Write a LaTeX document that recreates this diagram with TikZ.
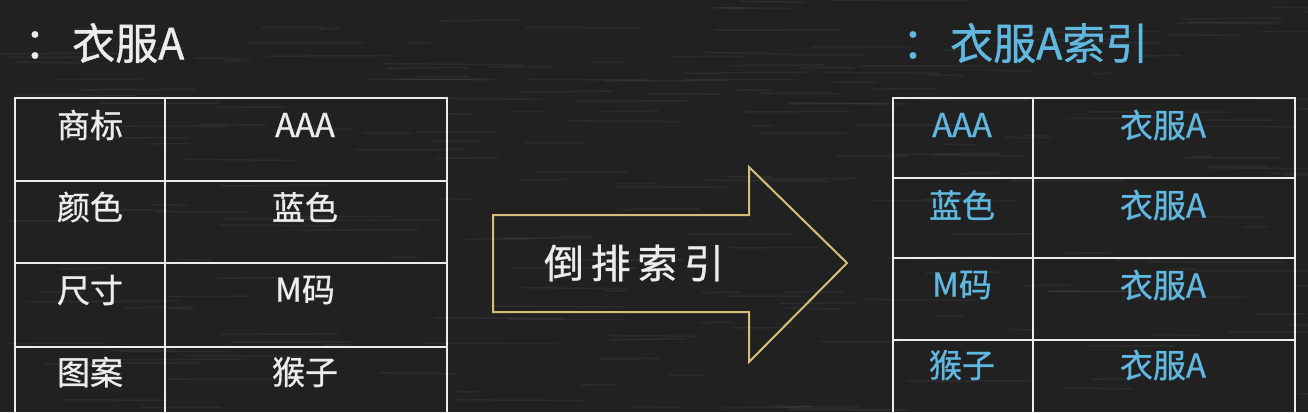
\documentclass[tikz,border=0pt]{standalone}
\usepackage{fontspec}
\setmainfont{Noto Sans CJK SC}[FakeBold=0.8]
\definecolor{board}{RGB}{33,33,33}
\definecolor{chalk}{RGB}{236,236,236}
\definecolor{gold}{RGB}{214,190,120}
\definecolor{sky}{RGB}{96,184,224}
\begin{document}
\begin{tikzpicture}[x=1pt,y=-1pt,
  cellbox/.style={draw=chalk,line width=2pt,anchor=north west,inner sep=0pt},
  celltxt/.style={font=\fontsize{33}{33}\selectfont,inner sep=0pt},
  titletxt/.style={font=\fontsize{43}{43}\selectfont,inner sep=0pt,anchor=west}]
\fill[board] (0,0) rectangle (1308,412);
\useasboundingbox (0,0) rectangle (1308,412);
\clip (0,0) rectangle (1308,412);
% faint chalk texture
\pgfmathsetseed{7}
\foreach \i in {1,...,220}{
  \pgfmathsetmacro{\xx}{rnd*1308}
  \pgfmathsetmacro{\yy}{rnd*412}
  \pgfmathsetmacro{\ll}{20+rnd*120}
  \draw[white,opacity=0.05,line width=1.5pt] (\xx,\yy) -- ++(\ll,rnd*2-1);
}
% left title
\node[titletxt,text=chalk] (lc) at (24,45) {：};
\node[titletxt,text=chalk] (lt) at (72,43) {衣服A};
% left table
\foreach \r/\y/\h in {1/97/83,2/180/82,3/262/84,4/346/83}{
  \node[cellbox,minimum width=150pt,minimum height=\h pt] (la\r) at (14,\y) {};
  \node[cellbox,minimum width=282pt,minimum height=\h pt] (lb\r) at (164,\y) {};
}
\node[celltxt,text=chalk] (k1) at (90,125) {商标};
\node[celltxt,text=chalk] (v1) at (305,125) {AAA};
\node[celltxt,text=chalk] (k2) at (90,207) {颜色};
\node[celltxt,text=chalk] (v2) at (305,207) {蓝色};
\node[celltxt,text=chalk] (k3) at (90,290) {尺寸};
\node[celltxt,text=chalk] (v3) at (305,290) {M码};
\node[celltxt,text=chalk] (k4) at (90,372) {图案};
\node[celltxt,text=chalk] (v4) at (305,372) {猴子};
% arrow
\draw[gold,line width=2pt,line join=miter]
  (493,215) -- (749,215) -- (749,167) -- (847,263) -- (749,362) -- (749,312) -- (493,312) -- cycle;
\node[font=\fontsize{40}{40}\selectfont,text=chalk,inner sep=0pt] (arr) at (634,263) {倒\,排\,索\,引};
% right title
\node[titletxt,text=sky] (rc) at (902,45) {：};
\node[titletxt,text=sky] (rt) at (950,43) {衣服A索引};
% right table
\foreach \r/\y/\h in {1/97/80,2/177/80,3/257/82,4/339/83}{
  \node[cellbox,minimum width=140pt,minimum height=\h pt] (ra\r) at (892,\y) {};
  \node[cellbox,minimum width=262pt,minimum height=\h pt] (rb\r) at (1032,\y) {};
}
\node[celltxt,text=sky] (p1) at (962,125) {AAA};
\node[celltxt,text=sky] (q1) at (1163,125) {衣服A};
\node[celltxt,text=sky] (p2) at (962,205) {蓝色};
\node[celltxt,text=sky] (q2) at (1163,205) {衣服A};
\node[celltxt,text=sky] (p3) at (962,285) {M码};
\node[celltxt,text=sky] (q3) at (1163,285) {衣服A};
\node[celltxt,text=sky] (p4) at (962,365) {猴子};
\node[celltxt,text=sky] (q4) at (1163,365) {衣服A};
\end{tikzpicture}
\end{document}
